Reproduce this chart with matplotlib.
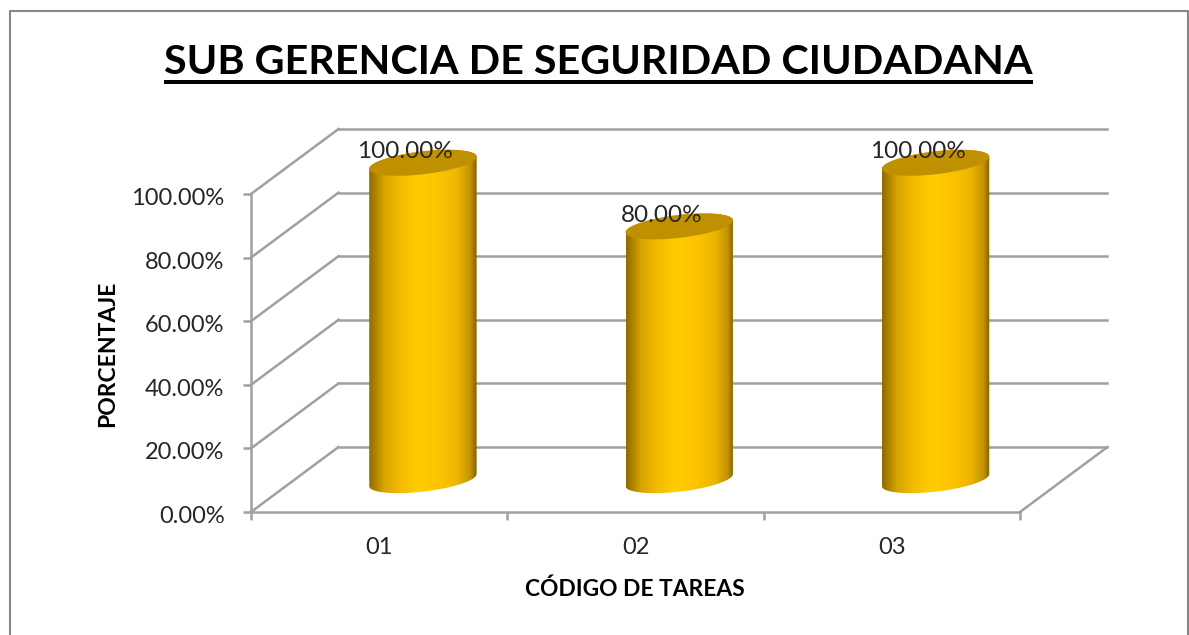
import numpy as np
import matplotlib
matplotlib.use('Agg')
import matplotlib.pyplot as plt
from matplotlib.colors import LinearSegmentedColormap
from matplotlib.patches import Polygon, Rectangle
from matplotlib.transforms import Affine2D, ScaledTranslation

categories = ["01", "02", "03"]
values = [100, 80, 100]
y_ticks = [0, 20, 40, 60, 80, 100]
title = "SUB GERENCIA DE SEGURIDAD CIUDADANA"

W, H = 1189, 635
GREY = "#a0a0a0"
FONT = "Lato"

plt.rcParams['font.family'] = FONT
fig = plt.figure(figsize=(W / 100, H / 100), dpi=100)
fig.patch.set_facecolor("white")

# front plane of the 3d box
left, right, bottom, top = 251, 1020, 512, 194
ax = fig.add_axes([left / W, 1 - bottom / H, (right - left) / W, (bottom - top) / H])
ax.set_xlim(0.5, 3.5)
ax.set_ylim(0, 100)
ax.patch.set_alpha(0)

# px to data units
px_x = 3 / (right - left)
px_y = 100 / (bottom - top)
depth_x = 87.5 * px_x
depth_y = 65 * px_y

# walls
for v in y_ticks:
    ax.plot([0.5, 0.5 + depth_x], [v, v + depth_y], color=GREY, lw=1.8, clip_on=False, zorder=1)
    ax.plot([0.5 + depth_x, 3.5 + depth_x], [v + depth_y, v + depth_y], color=GREY, lw=1.8,
            clip_on=False, zorder=1)
ax.plot([3.5, 3.5 + depth_x], [0, depth_y], color=GREY, lw=1.8, clip_on=False, zorder=1)

# cylinders
cmap = LinearSegmentedColormap.from_list("gold", [
    (0.0, "#8f6c00"), (0.14, "#d8a400"), (0.3, "#f5bc00"), (0.45, "#ffcc00"),
    (0.65, "#fcc400"), (0.82, "#efb600"), (0.94, "#c49400"), (1.0, "#806000")])
grad = np.linspace(0, 1, 256).reshape(1, -1)

a, b, c = 47.5, 25, 13
tang = np.arctan2(b, a)


def ellipse(cx, cy, t):
    return np.column_stack([cx + (a * np.cos(t) + b * np.sin(t)) * px_x,
                            cy + c * np.sin(t) * px_y])


for i, val in enumerate(values):
    cx = i + 1 + depth_x / 2
    cy0 = depth_y / 2 - 0.2
    cy1 = val + depth_y / 2 - 0.4
    half = np.hypot(a, b) * px_x
    # lower arc of the base, then upper side back along the top ellipse
    t_low = np.linspace(np.pi + tang, 2 * np.pi + tang, 60)
    t_up = np.linspace(tang, np.pi + tang, 60)
    outline = np.vstack([ellipse(cx, cy0, t_low), ellipse(cx, cy1, t_up)])
    body = Polygon(outline, closed=True, transform=ax.transData, fc="none", ec="none", clip_on=False)
    ax.add_patch(body)
    im = ax.imshow(grad, cmap=cmap, extent=[cx - half, cx + half, cy0 - 20, cy1 + 20],
                   aspect='auto', zorder=3)
    im.set_clip_box(fig.bbox)
    im.set_clip_path(body)
    t = np.linspace(0, 2 * np.pi, 120)
    ax.add_patch(Polygon(ellipse(cx, cy1, t), closed=True, fc="#bf9000", ec="none",
                         zorder=4, clip_on=False))
    ax.text(cx - 17.5 * px_x, cy1 + 11 * px_y, f"{val:.2f}%", ha='center', va='center',
            fontsize=17.5, color="#262626", zorder=5, clip_on=False)

ax.set_xlim(0.5, 3.5)
ax.set_ylim(0, 100)

# axes
for s in ('top', 'right'):
    ax.spines[s].set_visible(False)
for s in ('left', 'bottom'):
    ax.spines[s].set_color(GREY)
    ax.spines[s].set_linewidth(1.8)
ax.set_yticks(y_ticks)
ax.set_yticklabels([f"{v:.2f}%" for v in y_ticks])
ax.set_xticks([0.5, 1.5, 2.5, 3.5])
ax.set_xticklabels([])
ax.set_xticks([1, 2, 3], minor=True)
ax.set_xticklabels(categories, minor=True)
ax.tick_params(axis='y', length=6, width=1.8, color=GREY, labelsize=17, labelcolor="#262626", pad=13)
ax.tick_params(axis='x', which='major', length=6, width=1.8, color=GREY)
ax.tick_params(axis='x', which='minor', length=0, labelsize=17, labelcolor="#262626", pad=18)

# tick labels sit a little lower than the tick mark
shift = ScaledTranslation(0, -2.5 / 100, fig.dpi_scale_trans)
for lab in ax.get_yticklabels():
    lab.set_transform(lab.get_transform() + shift)

fig.text(108 / W, 1 - 354 / H, "PORCENTAJE", rotation=90, ha='center', va='center',
         fontsize=16.5, fontweight='bold', color="black")
fig.text(635 / W, 1 - 589 / H, "CÓDIGO DE TAREAS", ha='center', va='center',
         fontsize=16.4, fontweight='bold', color="black")

# title with underline
t_art = fig.text(598.5 / W, 1 - 62.5 / H, title, ha='center', va='center', fontsize=29.7,
                 fontweight='bold', color="black")
fig.canvas.draw()
bb = t_art.get_window_extent()
fig.add_artist(Rectangle((bb.x0, H - 84), bb.width, 4, transform=Affine2D(), fc="black", ec="none"))

# outer border, runs off the bottom of the image
fig.add_artist(plt.Line2D([9.5, 9.5, 1187.5, 1187.5], [-5, H - 10.5, H - 10.5, -5], transform=Affine2D(),
                          color="#868686", lw=1.5))

fig.savefig("out.png", dpi=100)
